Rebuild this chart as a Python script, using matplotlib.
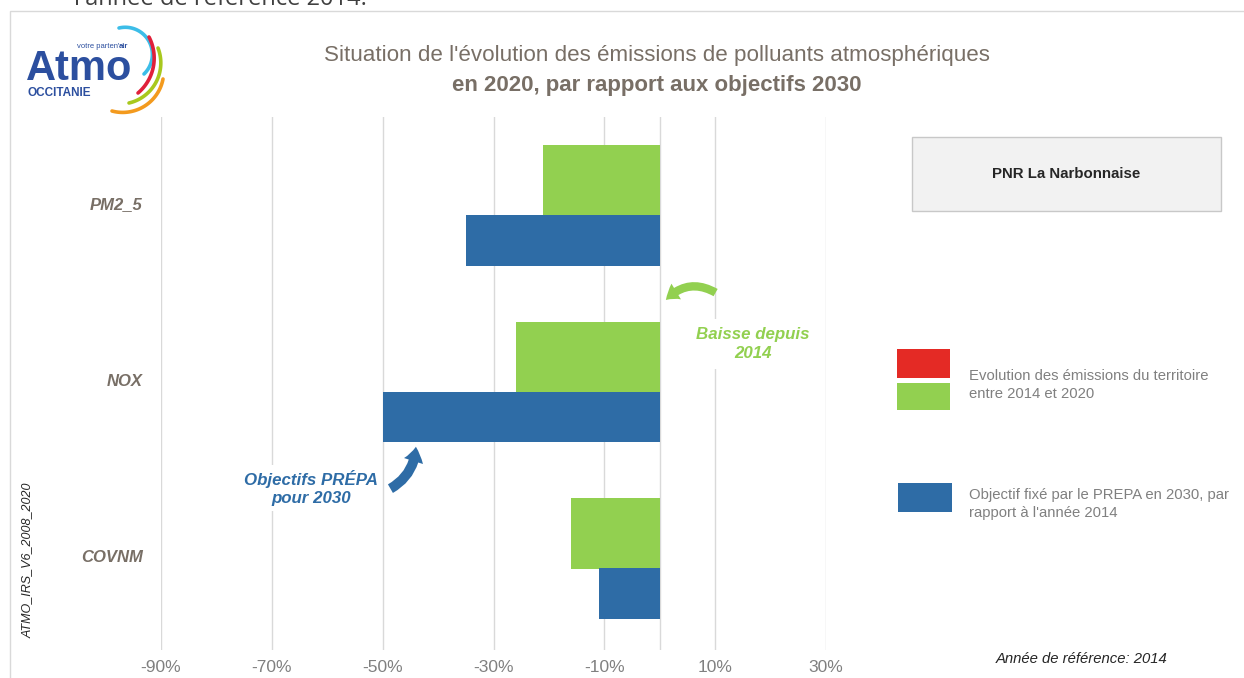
import numpy as np
import matplotlib.pyplot as plt
from matplotlib.patches import Rectangle, FancyArrowPatch

# taille de l'image en pixels
W, H = 1244, 678

# donnees
polluants = ['PM2_5', 'NOX', 'COVNM']
evolution_2014_2020 = [-0.21, -0.26, -0.16]
objectif_prepa_2030 = [-0.35, -0.50, -0.11]
graduations = [-0.9, -0.7, -0.5, -0.3, -0.1, 0.1, 0.3]

VERT = '#92d050'
BLEU = '#2e6ca6'
ROUGE = '#e42a25'
GRIS_TITRE = '#786f66'
GRIS_TEXTE = '#808080'
BLEU_ATMO = '#2c4f9f'

plt.rcParams['font.family'] = ['Liberation Sans', 'DejaVu Sans']


def fx(x):
    return x / W


def fy(y):
    return 1 - y / H


def cercle(a, b, c):
    # cercle passant par trois points
    ax_, ay = a
    bx, by = b
    cx, cy = c
    d = 2 * (ax_ * (by - cy) + bx * (cy - ay) + cx * (ay - by))
    ux = ((ax_**2 + ay**2) * (by - cy) + (bx**2 + by**2) * (cy - ay) + (cx**2 + cy**2) * (ay - by)) / d
    uy = ((ax_**2 + ay**2) * (cx - bx) + (bx**2 + by**2) * (ax_ - cx) + (cx**2 + cy**2) * (bx - ax_)) / d
    return ux, uy, np.hypot(ax_ - ux, ay - uy)


fig = plt.figure(figsize=(W / 100, H / 100), dpi=100)

# cadre exterieur
fig.add_artist(Rectangle((fx(10), fy(690)), fx(1260) - fx(10), fy(11) - fy(690),
                         transform=fig.transFigure, fill=False, ec='#d9d9d9', lw=1))
# bout de texte du document au dessus
fig.text(fx(74), fy(5), "l'année de référence 2014.", fontsize=17, color='#404040',
         family=['Open Sans', 'DejaVu Sans'], va='baseline')

# graphique principal
ax = fig.add_axes([fx(161), fy(650), fx(826) - fx(161), fy(117) - fy(650)])
y = np.arange(len(polluants))
ax.barh(y - 0.13, evolution_2014_2020, height=0.40, color=VERT, zorder=3)
ax.barh(y + 0.21, objectif_prepa_2030, height=0.285, color=BLEU, zorder=3)
ax.set_xlim(-0.9, 0.3)
ax.set_ylim(2.53, -0.49)
ax.set_xticks(graduations)
ax.set_xticklabels([f"{round(v * 100)}%" for v in graduations], fontsize=12.5, color=GRIS_TEXTE)
ax.set_yticks(y)
ax.set_yticklabels(polluants, fontsize=12, fontweight='bold', style='italic', color=GRIS_TITRE)
ax.tick_params(axis='x', length=0, pad=7)
ax.tick_params(axis='y', length=0, pad=13)
ax.grid(axis='x', color='#d9d9d9', lw=1, zorder=0)
ax.axvline(0, color='#d9d9d9', lw=1, zorder=1)
for s in ax.spines.values():
    s.set_visible(False)

# titre
fig.text(fx(657), fy(55), "Situation de l'évolution des émissions de polluants atmosphériques",
         ha='center', va='center', fontsize=16.1, color=GRIS_TITRE)
fig.text(fx(657), fy(86), "en 2020, par rapport aux objectifs 2030",
         ha='center', va='center', fontsize=16, fontweight='bold', color=GRIS_TITRE)

# encadre du territoire
fig.add_artist(Rectangle((fx(912), fy(211)), fx(1221) - fx(912), fy(137) - fy(211),
                         transform=fig.transFigure, fc='#f2f2f2', ec='#c8c8c8', lw=1))
fig.text(fx(1066), fy(174), 'PNR La Narbonnaise', ha='center', va='center',
         fontsize=10.8, fontweight='bold', color='#262626')

# legende faite a la main
fig.add_artist(Rectangle((fx(897), fy(378)), fx(950) - fx(897), fy(349) - fy(378),
                         transform=fig.transFigure, color=ROUGE, lw=0))
fig.add_artist(Rectangle((fx(897), fy(410)), fx(950) - fx(897), fy(383) - fy(410),
                         transform=fig.transFigure, color=VERT, lw=0))
fig.add_artist(Rectangle((fx(898), fy(512)), fx(952) - fx(898), fy(483) - fy(512),
                         transform=fig.transFigure, color=BLEU, lw=0))
fig.text(fx(969), fy(385), "Evolution des émissions du territoire\nentre 2014 et 2020",
         va='center', fontsize=10.7, color=GRIS_TEXTE, linespacing=1.45)
fig.text(fx(969), fy(504), "Objectif fixé par le PREPA en 2030, par\nrapport à l'année 2014",
         va='center', fontsize=10.7, color=GRIS_TEXTE, linespacing=1.45)

# annotations
fig.text(fx(753), fy(344), "Baisse depuis\n2014", ha='center', va='center', fontsize=12.2,
         fontweight='bold', style='italic', color=VERT, linespacing=1.3,
         bbox=dict(fc='white', ec='none', pad=6))
fig.text(fx(311), fy(488), "Objectifs PRÉPA\npour 2030", ha='center', va='center', fontsize=12.2,
         fontweight='bold', style='italic', color=BLEU, linespacing=1.3,
         bbox=dict(fc='white', ec='none', pad=3))
fig.add_artist(FancyArrowPatch((fx(718), fy(294)), (fx(664), fy(302)), transform=fig.transFigure,
                               connectionstyle='arc3,rad=0.42',
                               arrowstyle='simple,head_width=1.1,head_length=0.8,tail_width=0.5',
                               mutation_scale=12, color=VERT, lw=0))
fig.add_artist(FancyArrowPatch((fx(388), fy(490)), (fx(416), fy(444)), transform=fig.transFigure,
                               connectionstyle='arc3,rad=0.3',
                               arrowstyle='simple,head_width=1.1,head_length=0.8,tail_width=0.55',
                               mutation_scale=13, color=BLEU, lw=0))

fig.text(fx(28), fy(560), 'ATMO_IRS_V6_2008_2020', rotation=90, ha='center', va='center',
         fontsize=9, style='italic', color='#262626')
fig.text(fx(1082), fy(659), 'Année de référence: 2014', ha='center', va='center',
         fontsize=10.7, style='italic', color='#262626')

# logo
lg = fig.add_axes([0, fy(130), fx(200), 1 - fy(130)])
lg.set_xlim(0, 200)
lg.set_ylim(130, 0)
lg.axis('off')
lg.text(26, 80, 'Atmo', fontsize=30, fontweight='bold', color=BLEU_ATMO, va='baseline')
lg.text(119, 48, "votre parten'", fontsize=5.5, color=BLEU_ATMO, ha='right', va='baseline')
lg.text(119, 48, 'air', fontsize=5.5, fontweight='bold', color=BLEU_ATMO, ha='left', va='baseline')
lg.text(27, 96, 'OCCITANIE', fontsize=8.5, fontweight='bold', color=BLEU_ATMO, va='baseline')
arcs = [
    ('#3cbde8', (119, 28), (152, 50), (144, 74)),
    ('#e0203a', (149, 37), (154, 62), (138, 93)),
    ('#a8c81e', (158, 48), (159, 75), (129, 103)),
    ('#f39a1e', (163, 79), (150, 102), (112, 111)),
]
for couleur, p0, pm, p2 in arcs:
    cx, cy, r = cercle(p0, pm, p2)
    a0 = np.arctan2(p0[1] - cy, p0[0] - cx)
    am = np.arctan2(pm[1] - cy, pm[0] - cx)
    a2 = np.arctan2(p2[1] - cy, p2[0] - cx)
    am, a2 = np.unwrap([a0, am, a2])[1:]
    if not (min(a0, a2) <= am <= max(a0, a2)):
        a2 = a2 - 2 * np.pi if a2 > a0 else a2 + 2 * np.pi
    t = np.linspace(a0, a2, 60)
    lg.plot(cx + r * np.cos(t), cy + r * np.sin(t), color=couleur, lw=2.6, solid_capstyle='round')

fig.savefig('out.png', dpi=100)
